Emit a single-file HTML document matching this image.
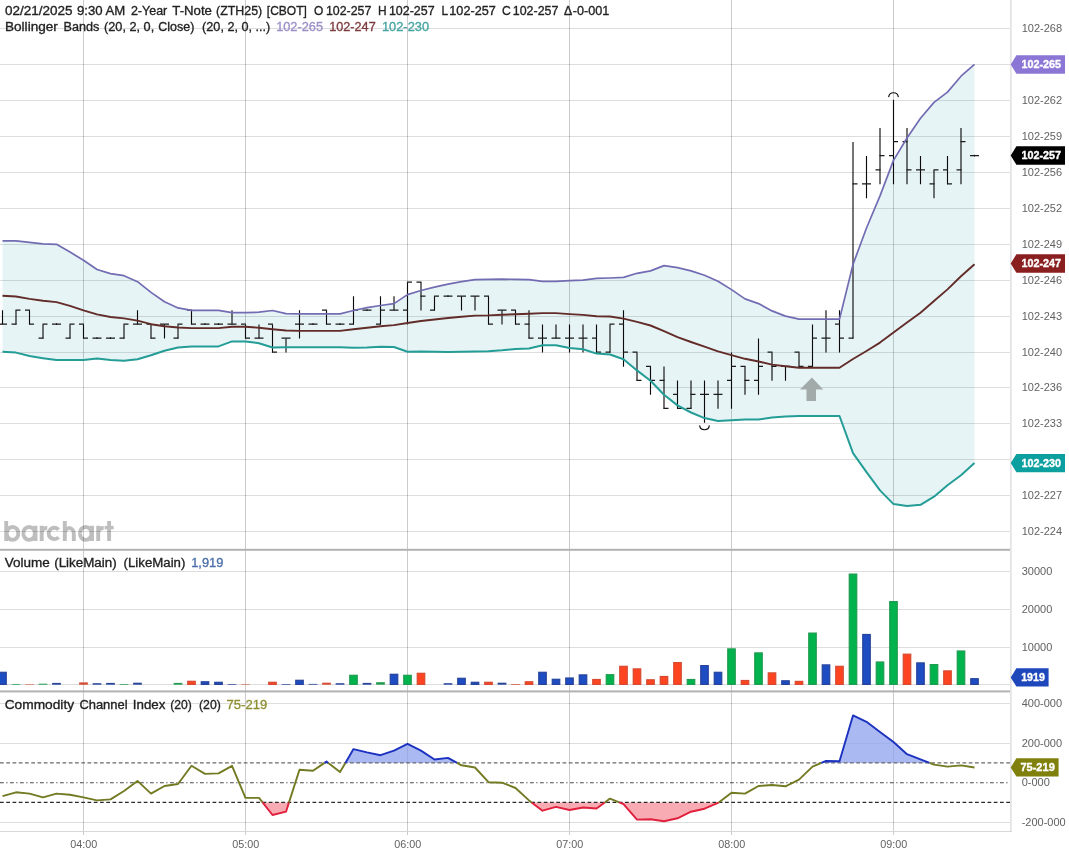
<!DOCTYPE html>
<html><head><meta charset="utf-8"><title>chart</title><style>html,body{margin:0;padding:0;background:#fff;width:1069px;height:857px;overflow:hidden}</style></head><body><svg width="1069" height="857" viewBox="0 0 1069 857" style="display:block;position:absolute;left:0;top:0;will-change:transform" font-family="Liberation Sans, sans-serif">
<rect width="1069" height="857" fill="#fff"/>
<path d="M6.2,520.9 V541.0 M12.6,533.4 m-5.7,0 a5.7,5.7 0 1 0 11.3,0 a5.7,5.7 0 1 0 -11.3,0 M35.5,525.8 V541.0 M29.2,533.4 m-5.7,0 a5.7,5.7 0 1 0 11.3,0 a5.7,5.7 0 1 0 -11.3,0 M41.7,525.8 V541.0 M41.7,534 Q41.7,527.6 47.2,528 M58.6,529.6 A5.7,5.7 0 1 0 58.6,537.2 M64.8,520.9 V541.0 M64.8,534 A4.5,6 0 0 1 73.8,534 V541.0 M92,525.8 V541.0 M85.8,533.4 m-5.7,0 a5.7,5.7 0 1 0 11.3,0 a5.7,5.7 0 1 0 -11.3,0 M98.2,525.8 V541.0 M98.2,534 Q98.2,527.6 103.7,528 M109.1,520.9 V541.0" stroke="#bebebe" stroke-width="3.9" fill="none"/>
<path d="M104.6,527.6 H113.7" stroke="#bebebe" stroke-width="3.4" fill="none"/>
<rect x="0" y="28" width="1010" height="1" fill="rgba(0,0,0,0.135)"/>
<rect x="0" y="64" width="1010" height="1" fill="rgba(0,0,0,0.135)"/>
<rect x="0" y="100" width="1010" height="1" fill="rgba(0,0,0,0.135)"/>
<rect x="0" y="136" width="1010" height="1" fill="rgba(0,0,0,0.135)"/>
<rect x="0" y="172" width="1010" height="1" fill="rgba(0,0,0,0.135)"/>
<rect x="0" y="208" width="1010" height="1" fill="rgba(0,0,0,0.135)"/>
<rect x="0" y="244" width="1010" height="1" fill="rgba(0,0,0,0.135)"/>
<rect x="0" y="280" width="1010" height="1" fill="rgba(0,0,0,0.135)"/>
<rect x="0" y="316" width="1010" height="1" fill="rgba(0,0,0,0.135)"/>
<rect x="0" y="352" width="1010" height="1" fill="rgba(0,0,0,0.135)"/>
<rect x="0" y="387" width="1010" height="1" fill="rgba(0,0,0,0.135)"/>
<rect x="0" y="423" width="1010" height="1" fill="rgba(0,0,0,0.135)"/>
<rect x="0" y="459" width="1010" height="1" fill="rgba(0,0,0,0.135)"/>
<rect x="0" y="495" width="1010" height="1" fill="rgba(0,0,0,0.135)"/>
<rect x="0" y="531" width="1010" height="1" fill="rgba(0,0,0,0.135)"/>
<rect x="0" y="571" width="1010" height="1" fill="rgba(0,0,0,0.135)"/>
<rect x="0" y="609" width="1010" height="1" fill="rgba(0,0,0,0.135)"/>
<rect x="0" y="647" width="1010" height="1" fill="rgba(0,0,0,0.135)"/>
<rect x="0" y="684" width="1010" height="1" fill="rgba(0,0,0,0.135)"/>
<rect x="0" y="703" width="1010" height="1" fill="rgba(0,0,0,0.135)"/>
<rect x="0" y="743" width="1010" height="1" fill="rgba(0,0,0,0.135)"/>
<rect x="0" y="822" width="1010" height="1" fill="rgba(0,0,0,0.135)"/>
<rect x="83" y="0" width="1" height="835" fill="rgba(0,0,0,0.2)"/>
<rect x="245" y="0" width="1" height="835" fill="rgba(0,0,0,0.2)"/>
<rect x="407" y="0" width="1" height="835" fill="rgba(0,0,0,0.2)"/>
<rect x="569" y="0" width="1" height="835" fill="rgba(0,0,0,0.2)"/>
<rect x="731" y="0" width="1" height="835" fill="rgba(0,0,0,0.2)"/>
<rect x="893" y="0" width="1" height="835" fill="rgba(0,0,0,0.2)"/>
<rect x="1010.1" y="0" width="1.6" height="832" fill="#e2e2e4"/>
<rect x="0" y="831" width="1012" height="1" fill="#d8d8d8"/>
<polygon points="2.5,240.9 16.0,240.9 29.5,242.4 43.0,243.9 56.5,244.3 70.0,252.1 83.5,260.2 97.0,269.5 110.5,273.6 124.0,275.7 137.5,281.7 151.0,292.4 164.5,301.7 178.0,307.9 191.5,310.3 205.0,310.3 218.5,310.3 232.0,312.6 245.5,312.6 259.0,312.2 272.5,310.5 286.0,313.7 299.5,313.9 313.0,313.9 326.5,313.9 340.0,313.9 353.5,310.5 367.0,307.7 380.5,305.5 394.0,303.6 407.5,294.6 421.0,290.5 434.5,287.1 448.0,284.1 461.5,281.7 475.0,279.6 488.5,279.4 502.0,279.1 515.5,279.4 529.0,279.6 542.5,281.3 556.0,281.3 569.5,280.6 583.0,280.2 596.5,278.4 610.0,278.0 623.5,277.4 637.0,273.3 650.5,270.9 664.0,265.6 677.5,267.7 691.0,270.9 704.5,275.2 718.0,281.2 731.5,289.6 745.0,298.9 758.5,303.6 772.0,310.9 785.5,316.1 799.0,319.1 812.5,319.1 826.0,319.1 839.5,319.1 853.0,264.5 866.5,228.0 880.0,195.9 893.5,160.4 907.0,138.0 920.5,118.3 934.0,102.4 947.5,92.1 961.0,76.2 974.5,64.4 974.5,462.9 961.0,475.2 947.5,485.3 934.0,496.7 920.5,504.8 907.0,506.0 893.5,504.1 880.0,490.4 866.5,472.2 853.0,453.1 839.5,416.0 826.0,416.0 812.5,416.0 799.0,416.0 785.5,416.4 772.0,417.5 758.5,419.5 745.0,419.6 731.5,420.2 718.0,421.1 704.5,418.1 691.0,412.5 677.5,405.4 664.0,394.7 650.5,380.7 637.0,370.4 623.5,359.2 610.0,354.5 596.5,353.6 583.0,349.3 569.5,348.1 556.0,345.3 542.5,345.3 529.0,348.5 515.5,348.9 502.0,350.3 488.5,351.3 475.0,351.5 461.5,351.8 448.0,352.0 434.5,351.8 421.0,351.5 407.5,351.8 394.0,347.0 380.5,346.8 367.0,347.5 353.5,347.7 340.0,347.2 326.5,347.2 313.0,347.2 299.5,347.2 286.0,347.2 272.5,347.5 259.0,343.2 245.5,341.4 232.0,341.4 218.5,346.4 205.0,346.4 191.5,346.4 178.0,347.5 164.5,350.7 151.0,355.2 137.5,359.3 124.0,360.8 110.5,360.1 97.0,358.6 83.5,360.1 70.0,360.1 56.5,360.1 43.0,358.2 29.5,356.0 16.0,352.6 2.5,351.7" fill="#2aa0b4" fill-opacity="0.115"/>
<path d="M2.5,310.3 V324.6 M16.0,310.3 V324.6 M29.5,310.3 V324.6 M43.0,324.4 V338.6 M56.5,323.3 V325.1 M70.0,324.4 V338.6 M83.5,324.4 V338.6 M97.0,337.3 V339.1 M110.5,337.3 V339.1 M124.0,324.4 V338.6 M137.5,310.3 V324.6 M151.0,324.4 V338.6 M164.5,324.4 V338.6 M178.0,324.4 V338.6 M191.5,310.3 V324.6 M205.0,323.3 V325.1 M218.5,323.3 V325.1 M232.0,310.3 V324.6 M245.5,324.4 V338.6 M259.0,324.4 V338.6 M272.5,324.4 V352.6 M286.0,338.4 V352.6 M299.5,310.3 V338.6 M313.0,323.3 V325.1 M326.5,310.3 V324.6 M340.0,323.3 V325.1 M353.5,296.3 V324.6 M367.0,309.2 V311.0 M380.5,296.3 V324.6 M394.0,296.3 V310.5 M407.5,282.3 V324.6 M421.0,282.3 V310.5 M434.5,296.3 V310.5 M448.0,295.2 V297.0 M461.5,296.3 V310.5 M475.0,296.3 V310.5 M488.5,296.3 V324.6 M502.0,310.3 V324.6 M515.5,310.3 V324.6 M529.0,310.3 V338.6 M542.5,324.4 V352.6 M556.0,324.4 V338.6 M569.5,324.4 V352.6 M583.0,324.4 V352.6 M596.5,324.4 V352.6 M610.0,324.4 V352.6 M623.5,310.3 V366.7 M637.0,352.4 V380.7 M650.5,366.5 V394.7 M664.0,366.5 V408.8 M677.5,380.5 V408.8 M691.0,380.5 V408.8 M704.5,380.5 V422.8 M718.0,380.5 V408.8 M731.5,352.4 V408.8 M745.0,366.5 V394.7 M758.5,338.4 V394.7 M772.0,352.4 V380.7 M785.5,366.5 V380.7 M799.0,352.4 V366.7 M812.5,324.4 V366.7 M826.0,310.3 V352.6 M839.5,310.3 V352.6 M853.0,141.9 V338.6 M866.5,155.9 V198.2 M880.0,127.9 V184.2 M893.5,99.8 V184.2 M907.0,127.9 V184.2 M920.5,155.9 V184.2 M934.0,170.0 V198.2 M947.5,155.9 V184.2 M961.0,127.9 V184.2 M974.5,154.8 V156.6" stroke="#0a0a0a" stroke-width="1.12" fill="none"/>
<path d="M-2.0,324.2 H3.0 M2.0,324.2 H7.0 M11.5,324.2 H16.5 M15.5,310.1 H20.5 M25.0,310.1 H30.0 M29.0,324.2 H34.0 M38.5,338.2 H43.5 M42.5,324.2 H47.5 M52.0,324.2 H56.5 M56.5,324.2 H61.0 M65.5,338.2 H70.5 M69.5,324.2 H74.5 M79.0,324.2 H84.0 M83.0,338.2 H88.0 M92.5,338.2 H97.0 M97.0,338.2 H101.5 M106.0,338.2 H110.5 M110.5,338.2 H115.0 M119.5,338.2 H124.5 M123.5,324.2 H128.5 M133.0,324.2 H138.0 M137.0,324.2 H142.0 M146.5,324.2 H151.5 M150.5,338.2 H155.5 M160.0,324.2 H165.0 M164.0,324.2 H169.0 M173.5,338.2 H178.5 M177.5,324.2 H182.5 M187.0,310.1 H192.0 M191.0,324.2 H196.0 M200.5,324.2 H205.0 M205.0,324.2 H209.5 M214.0,324.2 H218.5 M218.5,324.2 H223.0 M227.5,324.2 H232.5 M231.5,324.2 H236.5 M241.0,324.2 H246.0 M245.0,338.2 H250.0 M254.5,338.2 H259.5 M258.5,338.2 H263.5 M268.0,324.2 H273.0 M272.0,352.2 H277.0 M281.5,338.2 H286.5 M285.5,338.2 H290.5 M295.0,324.2 H300.0 M299.0,324.2 H304.0 M308.5,324.2 H313.0 M313.0,324.2 H317.5 M322.0,310.1 H327.0 M326.0,324.2 H331.0 M335.5,324.2 H340.0 M340.0,324.2 H344.5 M349.0,324.2 H354.0 M353.0,310.1 H358.0 M362.5,310.1 H367.0 M367.0,310.1 H371.5 M376.0,324.2 H381.0 M380.0,310.1 H385.0 M389.5,310.1 H394.5 M393.5,310.1 H398.5 M403.0,310.1 H408.0 M407.0,282.1 H412.0 M416.5,282.1 H421.5 M420.5,296.1 H425.5 M430.0,310.1 H435.0 M434.0,296.1 H439.0 M443.5,296.1 H448.0 M448.0,296.1 H452.5 M457.0,296.1 H462.0 M461.0,296.1 H466.0 M470.5,296.1 H475.5 M474.5,296.1 H479.5 M484.0,296.1 H489.0 M488.0,324.2 H493.0 M497.5,310.1 H502.5 M501.5,310.1 H506.5 M511.0,310.1 H516.0 M515.0,324.2 H520.0 M524.5,324.2 H529.5 M528.5,338.2 H533.5 M538.0,338.2 H543.0 M542.0,338.2 H547.0 M551.5,338.2 H556.5 M555.5,338.2 H560.5 M565.0,338.2 H570.0 M569.0,338.2 H574.0 M578.5,338.2 H583.5 M582.5,338.2 H587.5 M592.0,338.2 H597.0 M596.0,352.2 H601.0 M605.5,352.2 H610.5 M609.5,324.2 H614.5 M619.0,324.2 H624.0 M623.0,352.2 H628.0 M632.5,352.2 H637.5 M636.5,380.3 H641.5 M646.0,366.3 H651.0 M650.0,380.3 H655.0 M659.5,380.3 H664.5 M663.5,408.4 H668.5 M673.0,394.3 H678.0 M677.0,408.4 H682.0 M686.5,408.4 H691.5 M690.5,394.3 H695.5 M700.0,394.3 H705.0 M704.0,394.3 H709.0 M713.5,394.3 H718.5 M717.5,394.3 H722.5 M727.0,380.3 H732.0 M731.0,366.3 H736.0 M740.5,366.3 H745.5 M744.5,380.3 H749.5 M754.0,380.3 H759.0 M758.0,366.3 H763.0 M767.5,352.2 H772.5 M771.5,366.3 H776.5 M781.0,366.3 H786.0 M785.0,366.3 H790.0 M794.5,352.2 H799.5 M798.5,366.3 H803.5 M808.0,366.3 H813.0 M812.0,338.2 H817.0 M821.5,338.2 H826.5 M825.5,338.2 H830.5 M835.0,324.2 H840.0 M839.0,338.2 H844.0 M848.5,338.2 H853.5 M852.5,183.8 H857.5 M862.0,183.8 H867.0 M866.0,183.8 H871.0 M875.5,169.8 H880.5 M879.5,155.7 H884.5 M889.0,155.7 H894.0 M893.0,141.7 H898.0 M902.5,141.7 H907.5 M906.5,169.8 H911.5 M916.0,169.8 H921.0 M920.0,169.8 H925.0 M929.5,183.8 H934.5 M933.5,169.8 H938.5 M943.0,169.8 H948.0 M947.0,183.8 H952.0 M956.5,169.8 H961.5 M960.5,141.7 H965.5 M970.0,155.7 H974.5 M974.5,155.7 H979.0" stroke="#1a1a1a" stroke-width="1.3" fill="none"/>
<polyline points="2.5,351.7 16.0,352.6 29.5,356.0 43.0,358.2 56.5,360.1 70.0,360.1 83.5,360.1 97.0,358.6 110.5,360.1 124.0,360.8 137.5,359.3 151.0,355.2 164.5,350.7 178.0,347.5 191.5,346.4 205.0,346.4 218.5,346.4 232.0,341.4 245.5,341.4 259.0,343.2 272.5,347.5 286.0,347.2 299.5,347.2 313.0,347.2 326.5,347.2 340.0,347.2 353.5,347.7 367.0,347.5 380.5,346.8 394.0,347.0 407.5,351.8 421.0,351.5 434.5,351.8 448.0,352.0 461.5,351.8 475.0,351.5 488.5,351.3 502.0,350.3 515.5,348.9 529.0,348.5 542.5,345.3 556.0,345.3 569.5,348.1 583.0,349.3 596.5,353.6 610.0,354.5 623.5,359.2 637.0,370.4 650.5,380.7 664.0,394.7 677.5,405.4 691.0,412.5 704.5,418.1 718.0,421.1 731.5,420.2 745.0,419.6 758.5,419.5 772.0,417.5 785.5,416.4 799.0,416.0 812.5,416.0 826.0,416.0 839.5,416.0 853.0,453.1 866.5,472.2 880.0,490.4 893.5,504.1 907.0,506.0 920.5,504.8 934.0,496.7 947.5,485.3 961.0,475.2 974.5,462.9" fill="none" stroke="#259d97" stroke-width="2.0" stroke-linejoin="round" stroke-linecap="butt"/>
<polyline points="2.5,240.9 16.0,240.9 29.5,242.4 43.0,243.9 56.5,244.3 70.0,252.1 83.5,260.2 97.0,269.5 110.5,273.6 124.0,275.7 137.5,281.7 151.0,292.4 164.5,301.7 178.0,307.9 191.5,310.3 205.0,310.3 218.5,310.3 232.0,312.6 245.5,312.6 259.0,312.2 272.5,310.5 286.0,313.7 299.5,313.9 313.0,313.9 326.5,313.9 340.0,313.9 353.5,310.5 367.0,307.7 380.5,305.5 394.0,303.6 407.5,294.6 421.0,290.5 434.5,287.1 448.0,284.1 461.5,281.7 475.0,279.6 488.5,279.4 502.0,279.1 515.5,279.4 529.0,279.6 542.5,281.3 556.0,281.3 569.5,280.6 583.0,280.2 596.5,278.4 610.0,278.0 623.5,277.4 637.0,273.3 650.5,270.9 664.0,265.6 677.5,267.7 691.0,270.9 704.5,275.2 718.0,281.2 731.5,289.6 745.0,298.9 758.5,303.6 772.0,310.9 785.5,316.1 799.0,319.1 812.5,319.1 826.0,319.1 839.5,319.1 853.0,264.5 866.5,228.0 880.0,195.9 893.5,160.4 907.0,138.0 920.5,118.3 934.0,102.4 947.5,92.1 961.0,76.2 974.5,64.4" fill="none" stroke="#726cb3" stroke-width="1.7" stroke-linejoin="round" stroke-linecap="butt"/>
<polyline points="2.5,295.7 16.0,296.5 29.5,298.9 43.0,300.8 56.5,302.1 70.0,305.8 83.5,310.3 97.0,314.4 110.5,317.0 124.0,318.4 137.5,320.6 151.0,324.2 164.5,326.2 178.0,327.5 191.5,328.1 205.0,328.1 218.5,328.1 232.0,326.8 245.5,326.8 259.0,327.7 272.5,329.2 286.0,330.5 299.5,330.9 313.0,330.9 326.5,330.9 340.0,330.9 353.5,329.2 367.0,327.7 380.5,326.2 394.0,325.1 407.5,323.0 421.0,321.0 434.5,319.5 448.0,318.0 461.5,316.7 475.0,315.6 488.5,315.4 502.0,314.8 515.5,314.2 529.0,313.7 542.5,313.1 556.0,313.1 569.5,314.1 583.0,314.9 596.5,316.2 610.0,316.5 623.5,318.6 637.0,321.8 650.5,325.5 664.0,331.1 677.5,337.1 691.0,342.0 704.5,346.7 718.0,351.3 731.5,355.1 745.0,358.8 758.5,361.5 772.0,364.6 785.5,366.2 799.0,367.7 812.5,367.7 826.0,367.7 839.5,367.7 853.0,359.0 866.5,351.0 880.0,342.6 893.5,332.5 907.0,322.5 920.5,312.8 934.0,301.0 947.5,289.4 961.0,276.3 974.5,264.2" fill="none" stroke="#622c29" stroke-width="1.9" stroke-linejoin="round" stroke-linecap="butt"/>
<path d="M888.63,97.09 A4.9,4.9 0 0 1 898.37,97.09" stroke="#111" stroke-width="1.15" fill="none"/>
<path d="M699.63,425.41 A4.9,4.9 0 0 0 709.37,425.41" stroke="#111" stroke-width="1.15" fill="none"/>
<polygon points="811.9,377.4 823.3,389.5 816,389.5 816,401.1 806.5,401.1 806.5,389.5 800,389.5" fill="#a3aaaa"/>
<rect x="0" y="548.8" width="1010" height="2" fill="#b2b2b2"/>
<rect x="0" y="690.4" width="1010" height="2" fill="#b2b2b2"/>
<rect x="-1.25" y="672.30" width="7.5" height="12.10" fill="#1e4cc2" stroke="#27449b" stroke-width="1.2"/>
<rect x="11.65" y="684.00" width="8.7" height="0.70" fill="#1f9c50"/>
<rect x="25.15" y="684.20" width="8.7" height="0.50" fill="#d54a30"/>
<rect x="38.65" y="683.70" width="8.7" height="1.00" fill="#1f9c50"/>
<rect x="52.15" y="682.90" width="8.7" height="1.80" fill="#27449b"/>
<rect x="79.15" y="682.40" width="8.7" height="2.30" fill="#d54a30"/>
<rect x="92.65" y="683.20" width="8.7" height="1.50" fill="#27449b"/>
<rect x="106.15" y="682.90" width="8.7" height="1.80" fill="#27449b"/>
<rect x="119.65" y="684.00" width="8.7" height="0.70" fill="#1f9c50"/>
<rect x="133.15" y="682.70" width="8.7" height="2.00" fill="#27449b"/>
<rect x="173.65" y="682.90" width="8.7" height="1.80" fill="#1f9c50"/>
<rect x="187.75" y="681.30" width="7.5" height="3.10" fill="#ff4422" stroke="#d54a30" stroke-width="1.2"/>
<rect x="201.25" y="681.80" width="7.5" height="2.60" fill="#1e4cc2" stroke="#27449b" stroke-width="1.2"/>
<rect x="214.75" y="682.30" width="7.5" height="2.10" fill="#1e4cc2" stroke="#27449b" stroke-width="1.2"/>
<rect x="227.65" y="684.00" width="8.7" height="0.70" fill="#27449b"/>
<rect x="241.15" y="684.20" width="8.7" height="0.50" fill="#d54a30"/>
<rect x="268.75" y="682.30" width="7.5" height="2.10" fill="#ff4422" stroke="#d54a30" stroke-width="1.2"/>
<rect x="281.65" y="684.00" width="8.7" height="0.70" fill="#27449b"/>
<rect x="295.75" y="680.30" width="7.5" height="4.10" fill="#1e4cc2" stroke="#27449b" stroke-width="1.2"/>
<rect x="308.65" y="683.90" width="8.7" height="0.80" fill="#27449b"/>
<rect x="322.15" y="682.70" width="8.7" height="2.00" fill="#d54a30"/>
<rect x="335.65" y="683.20" width="8.7" height="1.50" fill="#27449b"/>
<rect x="349.75" y="675.30" width="7.5" height="9.10" fill="#00b34c" stroke="#1f9c50" stroke-width="1.2"/>
<rect x="362.65" y="682.90" width="8.7" height="1.80" fill="#27449b"/>
<rect x="376.15" y="682.20" width="8.7" height="2.50" fill="#1f9c50"/>
<rect x="390.25" y="674.30" width="7.5" height="10.10" fill="#1e4cc2" stroke="#27449b" stroke-width="1.2"/>
<rect x="403.75" y="675.30" width="7.5" height="9.10" fill="#00b34c" stroke="#1f9c50" stroke-width="1.2"/>
<rect x="417.25" y="673.30" width="7.5" height="11.10" fill="#ff4422" stroke="#d54a30" stroke-width="1.2"/>
<rect x="443.65" y="683.20" width="8.7" height="1.50" fill="#27449b"/>
<rect x="457.75" y="678.30" width="7.5" height="6.10" fill="#1e4cc2" stroke="#27449b" stroke-width="1.2"/>
<rect x="471.25" y="682.30" width="7.5" height="2.10" fill="#1e4cc2" stroke="#27449b" stroke-width="1.2"/>
<rect x="484.75" y="682.30" width="7.5" height="2.10" fill="#ff4422" stroke="#d54a30" stroke-width="1.2"/>
<rect x="497.65" y="682.70" width="8.7" height="2.00" fill="#27449b"/>
<rect x="511.15" y="684.00" width="8.7" height="0.70" fill="#d54a30"/>
<rect x="525.25" y="681.80" width="7.5" height="2.60" fill="#ff4422" stroke="#d54a30" stroke-width="1.2"/>
<rect x="538.75" y="672.30" width="7.5" height="12.10" fill="#1e4cc2" stroke="#27449b" stroke-width="1.2"/>
<rect x="552.25" y="679.30" width="7.5" height="5.10" fill="#1e4cc2" stroke="#27449b" stroke-width="1.2"/>
<rect x="565.75" y="678.00" width="7.5" height="6.40" fill="#1e4cc2" stroke="#27449b" stroke-width="1.2"/>
<rect x="579.25" y="674.90" width="7.5" height="9.50" fill="#1e4cc2" stroke="#27449b" stroke-width="1.2"/>
<rect x="592.75" y="679.50" width="7.5" height="4.90" fill="#ff4422" stroke="#d54a30" stroke-width="1.2"/>
<rect x="606.25" y="674.70" width="7.5" height="9.70" fill="#00b34c" stroke="#1f9c50" stroke-width="1.2"/>
<rect x="619.75" y="666.30" width="7.5" height="18.10" fill="#ff4422" stroke="#d54a30" stroke-width="1.2"/>
<rect x="633.25" y="668.90" width="7.5" height="15.50" fill="#ff4422" stroke="#d54a30" stroke-width="1.2"/>
<rect x="646.75" y="679.80" width="7.5" height="4.60" fill="#ff4422" stroke="#d54a30" stroke-width="1.2"/>
<rect x="660.25" y="676.50" width="7.5" height="7.90" fill="#ff4422" stroke="#d54a30" stroke-width="1.2"/>
<rect x="673.75" y="662.60" width="7.5" height="21.80" fill="#ff4422" stroke="#d54a30" stroke-width="1.2"/>
<rect x="687.25" y="679.50" width="7.5" height="4.90" fill="#00b34c" stroke="#1f9c50" stroke-width="1.2"/>
<rect x="700.75" y="665.60" width="7.5" height="18.80" fill="#1e4cc2" stroke="#27449b" stroke-width="1.2"/>
<rect x="714.25" y="672.30" width="7.5" height="12.10" fill="#1e4cc2" stroke="#27449b" stroke-width="1.2"/>
<rect x="727.75" y="648.90" width="7.5" height="35.50" fill="#00b34c" stroke="#1f9c50" stroke-width="1.2"/>
<rect x="741.25" y="680.50" width="7.5" height="3.90" fill="#ff4422" stroke="#d54a30" stroke-width="1.2"/>
<rect x="754.75" y="652.90" width="7.5" height="31.50" fill="#00b34c" stroke="#1f9c50" stroke-width="1.2"/>
<rect x="768.25" y="672.90" width="7.5" height="11.50" fill="#ff4422" stroke="#d54a30" stroke-width="1.2"/>
<rect x="781.75" y="680.80" width="7.5" height="3.60" fill="#1e4cc2" stroke="#27449b" stroke-width="1.2"/>
<rect x="795.25" y="681.40" width="7.5" height="3.00" fill="#ff4422" stroke="#d54a30" stroke-width="1.2"/>
<rect x="808.75" y="633.10" width="7.5" height="51.30" fill="#00b34c" stroke="#1f9c50" stroke-width="1.2"/>
<rect x="822.25" y="664.90" width="7.5" height="19.50" fill="#1e4cc2" stroke="#27449b" stroke-width="1.2"/>
<rect x="835.75" y="666.30" width="7.5" height="18.10" fill="#ff4422" stroke="#d54a30" stroke-width="1.2"/>
<rect x="849.25" y="574.10" width="7.5" height="110.30" fill="#00b34c" stroke="#1f9c50" stroke-width="1.2"/>
<rect x="862.75" y="634.50" width="7.5" height="49.90" fill="#1e4cc2" stroke="#27449b" stroke-width="1.2"/>
<rect x="876.25" y="662.00" width="7.5" height="22.40" fill="#00b34c" stroke="#1f9c50" stroke-width="1.2"/>
<rect x="889.75" y="601.60" width="7.5" height="82.80" fill="#00b34c" stroke="#1f9c50" stroke-width="1.2"/>
<rect x="903.25" y="654.20" width="7.5" height="30.20" fill="#ff4422" stroke="#d54a30" stroke-width="1.2"/>
<rect x="916.75" y="662.90" width="7.5" height="21.50" fill="#1e4cc2" stroke="#27449b" stroke-width="1.2"/>
<rect x="930.25" y="664.60" width="7.5" height="19.80" fill="#00b34c" stroke="#1f9c50" stroke-width="1.2"/>
<rect x="943.75" y="670.90" width="7.5" height="13.50" fill="#ff4422" stroke="#d54a30" stroke-width="1.2"/>
<rect x="957.25" y="651.00" width="7.5" height="33.40" fill="#00b34c" stroke="#1f9c50" stroke-width="1.2"/>
<rect x="970.75" y="678.70" width="7.5" height="5.70" fill="#1e4cc2" stroke="#27449b" stroke-width="1.2"/>
<polygon points="262.6,802.4 272.5,815.0 286.0,811.7 289.0,802.4 289.0,802.4 262.6,802.4" fill="#f58f9a" fill-opacity="0.75"/>
<polygon points="324.5,762.9 326.5,761.5 328.3,762.9 328.3,762.9 324.5,762.9" fill="#8fa2ee" fill-opacity="0.75"/>
<polygon points="345.4,762.9 353.5,749.1 367.0,752.4 380.5,755.2 394.0,750.6 407.5,743.8 421.0,750.6 434.5,759.5 448.0,757.9 457.1,762.9 457.1,762.9 345.4,762.9" fill="#8fa2ee" fill-opacity="0.75"/>
<polygon points="531.6,802.4 542.5,810.7 556.0,806.9 569.5,810.0 583.0,807.5 596.5,808.5 604.8,802.4 604.8,802.4 531.6,802.4" fill="#f58f9a" fill-opacity="0.75"/>
<polygon points="619.2,802.4 623.5,804.2 637.0,819.6 650.5,819.3 664.0,821.3 677.5,818.3 691.0,811.7 704.5,808.7 718.0,802.9 718.7,802.4 718.7,802.4 619.2,802.4" fill="#f58f9a" fill-opacity="0.75"/>
<polygon points="821.4,762.9 826.0,761.0 839.5,761.3 853.0,715.4 866.5,721.8 880.0,731.9 893.5,742.0 907.0,754.2 920.5,759.4 929.6,762.9 929.6,762.9 821.4,762.9" fill="#8fa2ee" fill-opacity="0.75"/>
<path d="M0,762.9 H1010" stroke="#6a6a6a" stroke-width="1.1" stroke-dasharray="3.75 2.5" fill="none"/>
<path d="M0,782.7 H1010" stroke="#484848" stroke-width="1.1" stroke-dasharray="3.75 2.5 1.25 2.5" fill="none"/>
<path d="M0,802.4 H1010" stroke="#2a2a2a" stroke-width="1.1" stroke-dasharray="3.75 2.5" fill="none"/>
<polyline points="2.5,796.1 16.0,792.3 29.5,793.6 43.0,797.4 56.5,793.6 70.0,794.8 83.5,797.4 97.0,800.4 110.5,799.4 124.0,791.0 137.5,780.9 151.0,793.6 164.5,786.0 178.0,784.0 191.5,765.8 205.0,773.9 218.5,773.4 232.0,765.8 245.5,797.9 259.0,797.9 262.6,802.4" fill="none" stroke="#737a22" stroke-width="1.9" stroke-linejoin="round"/>
<polyline points="262.6,802.4 272.5,815.0 286.0,811.7 289.0,802.4" fill="none" stroke="#e0203c" stroke-width="1.9" stroke-linejoin="round"/>
<polyline points="289.0,802.4 299.5,769.8 313.0,770.8 324.5,762.9" fill="none" stroke="#737a22" stroke-width="1.9" stroke-linejoin="round"/>
<polyline points="324.5,762.9 326.5,761.5 328.3,762.9" fill="none" stroke="#1b31bf" stroke-width="1.9" stroke-linejoin="round"/>
<polyline points="328.3,762.9 340.0,772.1 345.4,762.9" fill="none" stroke="#737a22" stroke-width="1.9" stroke-linejoin="round"/>
<polyline points="345.4,762.9 353.5,749.1 367.0,752.4 380.5,755.2 394.0,750.6 407.5,743.8 421.0,750.6 434.5,759.5 448.0,757.9 457.1,762.9" fill="none" stroke="#1b31bf" stroke-width="1.9" stroke-linejoin="round"/>
<polyline points="457.1,762.9 461.5,765.3 475.0,767.5 488.5,782.2 502.0,782.7 515.5,788.0 529.0,800.4 531.6,802.4" fill="none" stroke="#737a22" stroke-width="1.9" stroke-linejoin="round"/>
<polyline points="531.6,802.4 542.5,810.7 556.0,806.9 569.5,810.0 583.0,807.5 596.5,808.5 604.8,802.4" fill="none" stroke="#e0203c" stroke-width="1.9" stroke-linejoin="round"/>
<polyline points="604.8,802.4 610.0,798.6 619.2,802.4" fill="none" stroke="#737a22" stroke-width="1.9" stroke-linejoin="round"/>
<polyline points="619.2,802.4 623.5,804.2 637.0,819.6 650.5,819.3 664.0,821.3 677.5,818.3 691.0,811.7 704.5,808.7 718.0,802.9 718.7,802.4" fill="none" stroke="#e0203c" stroke-width="1.9" stroke-linejoin="round"/>
<polyline points="718.7,802.4 731.5,792.8 745.0,793.6 758.5,786.0 772.0,785.0 785.5,786.3 799.0,779.6 812.5,766.6 821.4,762.9" fill="none" stroke="#737a22" stroke-width="1.9" stroke-linejoin="round"/>
<polyline points="821.4,762.9 826.0,761.0 839.5,761.3 853.0,715.4 866.5,721.8 880.0,731.9 893.5,742.0 907.0,754.2 920.5,759.4 929.6,762.9" fill="none" stroke="#1b31bf" stroke-width="1.9" stroke-linejoin="round"/>
<polyline points="929.6,762.9 934.0,764.6 947.5,766.6 961.0,765.4 974.5,767.5" fill="none" stroke="#737a22" stroke-width="1.9" stroke-linejoin="round"/>
<text x="1021.7" y="31.8" font-size="10.6" fill="#626262" textLength="40.4" lengthAdjust="spacingAndGlyphs">102-268</text>
<text x="1021.7" y="67.8" font-size="10.6" fill="#626262" textLength="40.4" lengthAdjust="spacingAndGlyphs">102-265</text>
<text x="1021.7" y="103.8" font-size="10.6" fill="#626262" textLength="40.4" lengthAdjust="spacingAndGlyphs">102-262</text>
<text x="1021.7" y="139.8" font-size="10.6" fill="#626262" textLength="40.4" lengthAdjust="spacingAndGlyphs">102-259</text>
<text x="1021.7" y="175.8" font-size="10.6" fill="#626262" textLength="40.4" lengthAdjust="spacingAndGlyphs">102-256</text>
<text x="1021.7" y="211.8" font-size="10.6" fill="#626262" textLength="40.4" lengthAdjust="spacingAndGlyphs">102-252</text>
<text x="1021.7" y="247.8" font-size="10.6" fill="#626262" textLength="40.4" lengthAdjust="spacingAndGlyphs">102-249</text>
<text x="1021.7" y="283.8" font-size="10.6" fill="#626262" textLength="40.4" lengthAdjust="spacingAndGlyphs">102-246</text>
<text x="1021.7" y="319.8" font-size="10.6" fill="#626262" textLength="40.4" lengthAdjust="spacingAndGlyphs">102-243</text>
<text x="1021.7" y="355.8" font-size="10.6" fill="#626262" textLength="40.4" lengthAdjust="spacingAndGlyphs">102-240</text>
<text x="1021.7" y="390.8" font-size="10.6" fill="#626262" textLength="40.4" lengthAdjust="spacingAndGlyphs">102-236</text>
<text x="1021.7" y="426.8" font-size="10.6" fill="#626262" textLength="40.4" lengthAdjust="spacingAndGlyphs">102-233</text>
<text x="1021.7" y="462.8" font-size="10.6" fill="#626262" textLength="40.4" lengthAdjust="spacingAndGlyphs">102-230</text>
<text x="1021.7" y="498.8" font-size="10.6" fill="#626262" textLength="40.4" lengthAdjust="spacingAndGlyphs">102-227</text>
<text x="1021.7" y="534.8" font-size="10.6" fill="#626262" textLength="40.4" lengthAdjust="spacingAndGlyphs">102-224</text>
<text x="1021.7" y="574.8" font-size="10.6" fill="#626262" textLength="30.6" lengthAdjust="spacingAndGlyphs">30000</text>
<text x="1021.7" y="612.8" font-size="10.6" fill="#626262" textLength="30.6" lengthAdjust="spacingAndGlyphs">20000</text>
<text x="1021.7" y="650.8" font-size="10.6" fill="#626262" textLength="30.6" lengthAdjust="spacingAndGlyphs">10000</text>
<text x="1021.7" y="706.8" font-size="10.6" fill="#626262" textLength="40.4" lengthAdjust="spacingAndGlyphs">400-000</text>
<text x="1021.7" y="746.8" font-size="10.6" fill="#626262" textLength="40.4" lengthAdjust="spacingAndGlyphs">200-000</text>
<text x="1021.7" y="785.8" font-size="10.6" fill="#626262" textLength="28.1" lengthAdjust="spacingAndGlyphs">0-000</text>
<text x="1021.7" y="825.8" font-size="10.6" fill="#626262" textLength="44.0" lengthAdjust="spacingAndGlyphs">-200-000</text>
<text x="83.8" y="847.9" font-size="10.8" fill="#626262" text-anchor="middle">04:00</text>
<text x="245.8" y="847.9" font-size="10.8" fill="#626262" text-anchor="middle">05:00</text>
<text x="407.8" y="847.9" font-size="10.8" fill="#626262" text-anchor="middle">06:00</text>
<text x="569.8" y="847.9" font-size="10.8" fill="#626262" text-anchor="middle">07:00</text>
<text x="731.8" y="847.9" font-size="10.8" fill="#626262" text-anchor="middle">08:00</text>
<text x="893.8" y="847.9" font-size="10.8" fill="#626262" text-anchor="middle">09:00</text>
<polygon points="1010.7,64.5 1016.4,55.3 1065.0,55.3 1065.0,73.7 1016.4,73.7" fill="#8b76d6"/>
<text x="1021.5" y="68.0" font-size="10.3" font-weight="bold" fill="#fff" stroke="#fff" stroke-width="0.35" textLength="39.6" lengthAdjust="spacingAndGlyphs">102-265</text>
<polygon points="1010.7,155.5 1016.4,146.3 1065.0,146.3 1065.0,164.7 1016.4,164.7" fill="#000"/>
<text x="1021.5" y="159.0" font-size="10.3" font-weight="bold" fill="#fff" stroke="#fff" stroke-width="0.35" textLength="39.6" lengthAdjust="spacingAndGlyphs">102-257</text>
<polygon points="1010.7,263.5 1016.4,254.3 1065.0,254.3 1065.0,272.7 1016.4,272.7" fill="#8a1f1f"/>
<text x="1021.5" y="267.0" font-size="10.3" font-weight="bold" fill="#fff" stroke="#fff" stroke-width="0.35" textLength="39.6" lengthAdjust="spacingAndGlyphs">102-247</text>
<polygon points="1010.7,463.1 1016.4,453.9 1065.0,453.9 1065.0,472.3 1016.4,472.3" fill="#0c9f9f"/>
<text x="1021.5" y="466.6" font-size="10.3" font-weight="bold" fill="#fff" stroke="#fff" stroke-width="0.35" textLength="39.6" lengthAdjust="spacingAndGlyphs">102-230</text>
<polygon points="1010.7,677.4 1016.4,668.2 1048.6,668.2 1048.6,686.6 1016.4,686.6" fill="#1f47bc"/>
<text x="1021.2" y="680.9" font-size="10.3" font-weight="bold" fill="#fff" stroke="#fff" stroke-width="0.35" textLength="23.6" lengthAdjust="spacingAndGlyphs">1919</text>
<polygon points="1010.7,767.4 1016.4,758.2 1058.6,758.2 1058.6,776.6 1016.4,776.6" fill="#80800c"/>
<text x="1020.4" y="770.9" font-size="10.3" font-weight="bold" fill="#fff" stroke="#fff" stroke-width="0.35" textLength="34.4" lengthAdjust="spacingAndGlyphs">75-219</text>
<text x="4.9" y="15.2" font-size="12.5" fill="#222" stroke="#222" stroke-width="0.32" textLength="67.5" lengthAdjust="spacingAndGlyphs">02/21/2025</text>
<text x="76.9" y="15.2" font-size="12.5" fill="#222" stroke="#222" stroke-width="0.32" textLength="48.4" lengthAdjust="spacingAndGlyphs">9:30 AM</text>
<text x="130.9" y="15.2" font-size="12.5" fill="#222" stroke="#222" stroke-width="0.32" textLength="36.4" lengthAdjust="spacingAndGlyphs">2-Year</text>
<text x="172.3" y="15.2" font-size="12.5" fill="#222" stroke="#222" stroke-width="0.32" textLength="39.6" lengthAdjust="spacingAndGlyphs">T-Note</text>
<text x="216.0" y="15.2" font-size="12.5" fill="#222" stroke="#222" stroke-width="0.32" textLength="46.2" lengthAdjust="spacingAndGlyphs">(ZTH25)</text>
<text x="266.8" y="15.2" font-size="12.5" fill="#222" stroke="#222" stroke-width="0.32" textLength="40.0" lengthAdjust="spacingAndGlyphs">[CBOT]</text>
<text x="313.9" y="15.2" font-size="12.5" fill="#222" stroke="#222" stroke-width="0.32" textLength="9.3" lengthAdjust="spacingAndGlyphs">O</text>
<text x="325.9" y="15.2" font-size="12.5" fill="#222" stroke="#222" stroke-width="0.32" textLength="45.4" lengthAdjust="spacingAndGlyphs">102-257</text>
<text x="378.0" y="15.2" font-size="12.5" fill="#222" stroke="#222" stroke-width="0.32" textLength="8.6" lengthAdjust="spacingAndGlyphs">H</text>
<text x="388.9" y="15.2" font-size="12.5" fill="#222" stroke="#222" stroke-width="0.32" textLength="45.7" lengthAdjust="spacingAndGlyphs">102-257</text>
<text x="441.6" y="15.2" font-size="12.5" fill="#222" stroke="#222" stroke-width="0.32" textLength="6.6" lengthAdjust="spacingAndGlyphs">L</text>
<text x="449.3" y="15.2" font-size="12.5" fill="#222" stroke="#222" stroke-width="0.32" textLength="46.5" lengthAdjust="spacingAndGlyphs">102-257</text>
<text x="502.0" y="15.2" font-size="12.5" fill="#222" stroke="#222" stroke-width="0.32" textLength="8.8" lengthAdjust="spacingAndGlyphs">C</text>
<text x="512.8" y="15.2" font-size="12.5" fill="#222" stroke="#222" stroke-width="0.32" textLength="45.6" lengthAdjust="spacingAndGlyphs">102-257</text>
<text x="564.1" y="15.2" font-size="12.5" fill="#222" stroke="#222" stroke-width="0.32" textLength="8.2" lengthAdjust="spacingAndGlyphs">&#916;</text>
<text x="572.7" y="15.2" font-size="12.5" fill="#222" stroke="#222" stroke-width="0.32" textLength="36.6" lengthAdjust="spacingAndGlyphs">-0-001</text>
<text x="5.0" y="30.8" font-size="12.5" fill="#222" stroke="#222" stroke-width="0.32" textLength="52.8" lengthAdjust="spacingAndGlyphs">Bollinger</text>
<text x="63.6" y="30.8" font-size="12.5" fill="#222" stroke="#222" stroke-width="0.32" textLength="35.8" lengthAdjust="spacingAndGlyphs">Bands</text>
<text x="104.0" y="30.8" font-size="12.5" fill="#222" stroke="#222" stroke-width="0.32" textLength="50.2" lengthAdjust="spacingAndGlyphs">(20, 2, 0,</text>
<text x="158.3" y="30.8" font-size="12.5" fill="#222" stroke="#222" stroke-width="0.32" textLength="36.0" lengthAdjust="spacingAndGlyphs">Close)</text>
<text x="202.1" y="30.8" font-size="12.5" fill="#222" stroke="#222" stroke-width="0.32" textLength="68.2" lengthAdjust="spacingAndGlyphs">(20, 2, 0, ...)</text>
<text x="276.2" y="30.8" font-size="12.5" fill="#9b8fc8" stroke="#9b8fc8" stroke-width="0.32" textLength="46.8" lengthAdjust="spacingAndGlyphs">102-265</text>
<text x="329.2" y="30.8" font-size="12.5" fill="#7d3b3d" stroke="#7d3b3d" stroke-width="0.32" textLength="46.5" lengthAdjust="spacingAndGlyphs">102-247</text>
<text x="382.0" y="30.8" font-size="12.5" fill="#43a5a2" stroke="#43a5a2" stroke-width="0.32" textLength="47.0" lengthAdjust="spacingAndGlyphs">102-230</text>
<text x="4.7" y="567.2" font-size="12.5" fill="#222" stroke="#222" stroke-width="0.32" textLength="45.1" lengthAdjust="spacingAndGlyphs">Volume</text>
<text x="54.2" y="567.2" font-size="12.5" fill="#222" stroke="#222" stroke-width="0.32" textLength="62.4" lengthAdjust="spacingAndGlyphs">(LikeMain)</text>
<text x="123.6" y="567.2" font-size="12.5" fill="#222" stroke="#222" stroke-width="0.32" textLength="61.8" lengthAdjust="spacingAndGlyphs">(LikeMain)</text>
<text x="191.2" y="567.2" font-size="12.5" fill="#4a6ea8" stroke="#4a6ea8" stroke-width="0.32" textLength="32.2" lengthAdjust="spacingAndGlyphs">1,919</text>
<text x="4.7" y="708.8" font-size="12.5" fill="#222" stroke="#222" stroke-width="0.32" textLength="69.4" lengthAdjust="spacingAndGlyphs">Commodity</text>
<text x="79.4" y="708.8" font-size="12.5" fill="#222" stroke="#222" stroke-width="0.32" textLength="48.2" lengthAdjust="spacingAndGlyphs">Channel</text>
<text x="132.8" y="708.8" font-size="12.5" fill="#222" stroke="#222" stroke-width="0.32" textLength="32.7" lengthAdjust="spacingAndGlyphs">Index</text>
<text x="170.2" y="708.8" font-size="12.5" fill="#222" stroke="#222" stroke-width="0.32" textLength="21.5" lengthAdjust="spacingAndGlyphs">(20)</text>
<text x="199.0" y="708.8" font-size="12.5" fill="#222" stroke="#222" stroke-width="0.32" textLength="21.8" lengthAdjust="spacingAndGlyphs">(20)</text>
<text x="226.6" y="708.8" font-size="12.5" fill="#8e8e32" stroke="#8e8e32" stroke-width="0.32" textLength="40.6" lengthAdjust="spacingAndGlyphs">75-219</text>
</svg></body></html>
